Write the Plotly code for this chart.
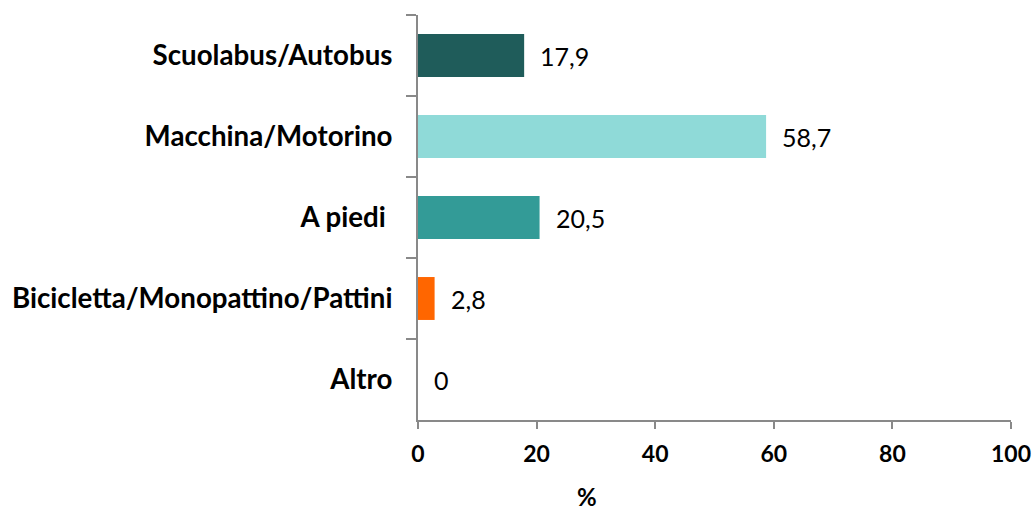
import plotly.graph_objects as go

categories = ["Scuolabus/Autobus", "Macchina/Motorino", "A piedi ", "Bicicletta/Monopattino/Pattini", "Altro"]
values = [17.9, 58.7, 20.5, 2.8, 0]
value_labels = ["17,9", "58,7", "20,5", "2,8", "0"]
bar_colors = ["#1F5C5A", "#8FDAD8", "#339B97", "#FF6600", "#FFFFFF"]
x_ticks = [0, 20, 40, 60, 80, 100]
x_title = "%"

FONT = "Lato"

fig = go.Figure()
fig.add_trace(go.Bar(
    x=values,
    y=categories,
    orientation="h",
    marker=dict(color=bar_colors, line=dict(width=0)),
    width=0.53,
    hoverinfo="skip",
))

for v, lab, cat in zip(values, value_labels, categories):
    fig.add_annotation(
        x=v, y=cat, text=lab, showarrow=False,
        xanchor="left", yanchor="middle", xshift=14,
        font=dict(family=FONT, size=25, color="#000000"),
    )

fig.add_annotation(
    x=0.285, y=0, xref="paper", yref="paper", text="<b>" + x_title + "</b>",
    showarrow=False, xanchor="center", yanchor="bottom", yshift=-93,
    font=dict(family=FONT, size=24, color="#000000"),
)

fig.update_layout(
    width=1034, height=513,
    margin=dict(l=418, r=23, t=15, b=93),
    paper_bgcolor="white", plot_bgcolor="white",
    showlegend=False,
    font=dict(family=FONT, color="#000000"),
    xaxis=dict(
        range=[0, 100], tickvals=x_ticks, ticktext=[str(t) for t in x_ticks],
        showgrid=False, zeroline=False, automargin=False,
        showline=True, linecolor="#898989", linewidth=2,
        ticks="outside", ticklen=7, tickwidth=1.5, tickcolor="#898989",
        tickfont=dict(family=FONT, size=23, color="#000000", weight="bold"),
        ticklabelstandoff=5,
        fixedrange=True,
    ),
    yaxis=dict(
        autorange="reversed", automargin=False,
        showgrid=False, zeroline=False,
        showline=True, linecolor="#898989", linewidth=2,
        ticks="outside", ticklen=10, tickwidth=1.5, tickcolor="#898989",
        tickson="boundaries",
        tickfont=dict(family=FONT, size=27.7, color="#000000", weight="bold"),
        ticklabelstandoff=18,
        fixedrange=True,
    ),
)

fig.write_html(
    "out.html",
    config={"displayModeBar": False},
    post_script="document.body.style.margin='0';document.body.style.overflow='hidden';",
)
